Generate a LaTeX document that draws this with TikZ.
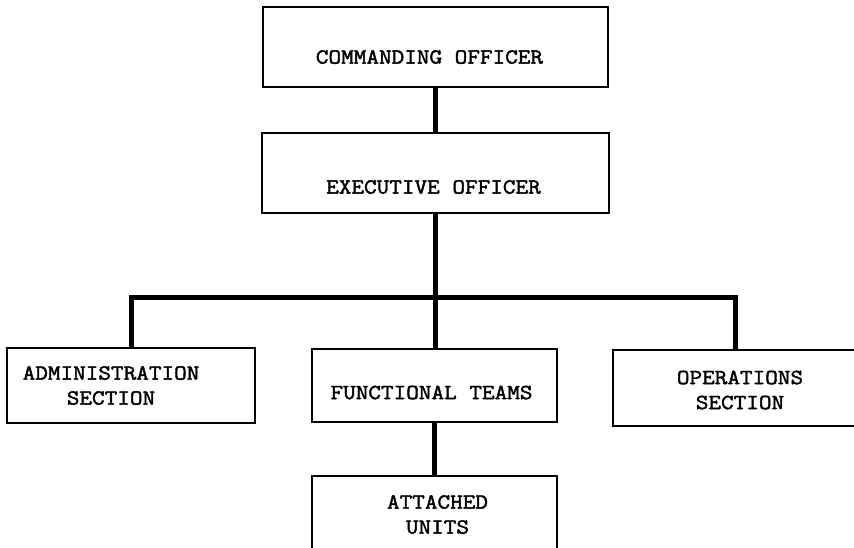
\documentclass[tikz,border=0pt]{standalone}
\usepackage{fontspec}
\setmonofont{Latin Modern Mono}[FakeStretch=1.14, FakeBold=2]
\usepackage{tikz}
\usetikzlibrary{calc}
\tikzstyle{unit} = [rectangle, draw, line width=1.6pt, inner sep=0pt, minimum height=75pt]
\tikzstyle{unitname} = [font=\fontsize{21.5}{25}\selectfont\ttfamily, align=center, inner sep=0pt]
\tikzstyle{link} = [line width=5pt]

\begin{document}
\begin{tikzpicture}[x=1pt, y=-1pt]
        \path [use as bounding box, clip] (0,0) rectangle (854,547);
        \node (co) [unit, minimum width=345pt, minimum height=80pt, label={[unitname, xshift=-6pt, yshift=-10pt]center:COMMANDING OFFICER}] at (435.5,47) {};
        \node (eo) [unit, minimum width=347pt, minimum height=80pt, label={[unitname, xshift=-2pt, yshift=-14pt]center:EXECUTIVE OFFICER}] at (435.5,173) {};
        \node (adm) [unit, minimum width=248pt, label={[unitname, xshift=-20pt]center:{ADMINISTRATION\\SECTION}}] at (131,385.5) {};
        \node (ft) [unit, minimum width=245pt, minimum height=73pt, label={[unitname, xshift=-3pt, yshift=-7pt]center:FUNCTIONAL TEAMS}] at (434.5,385.5) {};
        \node (ops) [unit, minimum width=244pt, minimum height=76pt, label={[unitname, xshift=5pt, yshift=-2pt]center:{OPERATIONS\\SECTION}}] at (735,388) {};
        \node (au) [unit, minimum width=245pt, label={[unitname, xshift=3pt, yshift=-1pt]center:{ATTACHED\\UNITS}}] at (434.5,513.5) {};
        \coordinate (bar) at (435.5,297);
        \draw [link] (co) -- (eo);
        \draw [link] (eo.south) -- (eo.south |- ft.north);
        \draw [link] (adm.north) |- (bar) -| (ops.north);
        \draw [link] (ft) -- (au);
    \end{tikzpicture}
\end{document}
